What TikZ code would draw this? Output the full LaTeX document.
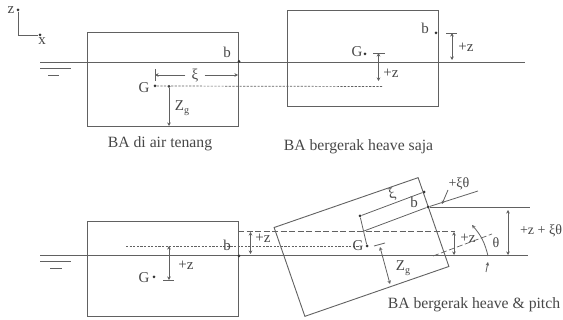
\documentclass[tikz,border=0pt]{standalone}
\usepackage{fontspec}
\setmainfont{Liberation Serif}
\usetikzlibrary{arrows.meta,positioning}
\colorlet{garis}{black!62}
\colorlet{teks}{black!72}
\tikzset{
  solidline/.style={draw=garis,line width=0.9pt},
  thinline/.style={draw=garis,line width=0.8pt},
  ukur/.style={thinline,{Stealth[length=3.5pt,width=3.5pt]}-{Stealth[length=3.5pt,width=3.5pt]}},
  panah/.style={thinline,-{Stealth[length=3.5pt,width=3.5pt]}},
  dashline/.style={draw=garis,line width=0.7pt,dash pattern=on 2.2pt off 1.4pt},
  longdash/.style={draw=garis,line width=0.7pt,dash pattern=on 6pt off 2.5pt},
  bak/.style={rectangle,solidline,minimum width=151pt,minimum height=94pt,inner sep=0pt},
  titik/.style={circle,fill=black!80,inner sep=0pt,minimum size=3pt},
  txt/.style={text=teks,inner sep=0pt,font=\fontsize{15}{16}\selectfont},
  judul/.style={text=teks,inner sep=0pt,font=\fontsize{15.7}{17}\selectfont},
  sumbu/.style={text=teks,inner sep=0pt,font=\fontsize{14}{15}\selectfont},
}
\begin{document}
\begin{tikzpicture}[x=1pt,y=-1pt,node distance=11pt]
    \useasboundingbox (0,0) rectangle (563,320);
    % axes
    \coordinate (origin) at (18,35);
    \node[titik] (ztop) at (18,10) {};
    \node[titik] (xend) at (40,35) {};
    \node[txt] (zaxis) at (11,10) {z};
    \node[txt] (xaxis) at (42,41) {x};
    \draw[thinline] (ztop) -- (origin) -- (xend);
    % still water
    \node[bak] (boxstill) at (162.5,79) {};
    \coordinate (watera) at (40,62.5);
    \coordinate (waterb) at (525,62.5);
    \draw[solidline] (watera) -- (waterb);
    \foreach \xa/\xb/\yy in {40/71/68,48/59/75,40/71/261,50/62/268}
      \draw[solidline] (\xa,\yy) -- (\xb,\yy);
    \node[titik] (bstill) at (239,61.5) {};
    \node[txt] (lbstill) at (227,52) {b};
    \node[titik] (Gstill) at (155,86) {};
    \node[txt] (lGstill) at (144,88) {G};
    \coordinate (xistart) at (155,75);
    \coordinate (xiend) at (238,75);
    \node[txt,fill=white,inner xsep=6pt] (lxi) at (195,76) {ξ};
    \draw[panah] (lxi.west |- xistart) -- (xistart);
    \draw[panah] (lxi.east |- xiend) -- (xiend);
    \draw[thinline] (155,69) -- (155,81);
    \node[titik] (Zgtop) at (169,86.5) {};
    \coordinate (Zgbot) at (169,126);
    \draw[panah] (Zgtop) -- (Zgbot);
    \node[txt] (lZg) at (182,108) {Z\raisebox{-3pt}{\fontsize{10}{10}\selectfont g}};
    \node[judul,below=10pt of boxstill,xshift=-2.5pt] (capstill) {BA di air tenang};
    % heave
    \node[bak,minimum height=96pt] (boxheave) at (362.5,58) {};
    \coordinate (dashend) at (382,86.5);
    \draw[dashline] (Gstill) -- (dashend);
    \node[titik] (bheave) at (436,33) {};
    \node[txt] (lbheave) at (425,28) {b};
    \node[titik] (Gheave) at (365,54) {};
    \node[txt] (lGheave) at (357,52) {G};
    \coordinate (zgtop) at (378.5,53);
    \coordinate (zgbot) at (378.5,81);
    \draw[ukur] (zgtop) -- (zgbot);
    \draw[thinline] (373,53) -- (385,53);
    \node[txt] (lzg) at (391,73) {+z};
    \coordinate (zbtop) at (452,33);
    \coordinate (zbbot) at (452,60);
    \draw[ukur] (zbtop) -- (zbbot);
    \draw[thinline] (446,33) -- (457,33);
    \node[txt] (lzb) at (466,47) {+z};
    \node[judul] (capheave) at (358.5,147) {BA bergerak heave saja};
    % heave and pitch, level box
    \node[bak,minimum height=95.5pt] (boxlevel) at (162.5,269.2) {};
    \coordinate (waterc) at (40,255.5);
    \coordinate (waterd) at (528,255.5);
    \draw[solidline] (waterc) -- (waterd);
    \coordinate (dottop) at (126,246);
    \coordinate (dotend) at (360,246);
    \draw[dashline] (dottop) -- (dotend);
    \node[titik] (blevel) at (239,256) {};
    \node[txt] (lblevel) at (227,245) {b};
    \node[titik] (Glevel) at (154,277) {};
    \node[txt] (lGlevel) at (144,278) {G};
    \coordinate (zltop) at (169,246);
    \coordinate (zlbot) at (169,280);
    \draw[ukur] (zltop) -- (zlbot);
    \draw[thinline] (163,280) -- (174,280);
    \node[txt] (lzl) at (186,265) {+z};
    \coordinate (dasha) at (238,231.5);
    \coordinate (dashb) at (455,231.5);
    \draw[longdash] (dasha) -- (dashb);
    \coordinate (zmtop) at (250.5,232);
    \coordinate (zmbot) at (250.5,254);
    \draw[ukur] (zmtop) -- (zmbot);
    \node[txt] (lzm) at (263,238) {+z};
    % tilted box
    \node[bak,minimum width=152.4pt,rotate=19.1] (boxtilt) at (361.5,247) {};
    \node[titik] (btilttop) at (424,192) {};
    \node[titik] (xitilt) at (360,216) {};
    \node[titik] (btilt) at (428,207) {};
    \node[titik] (Gtilt) at (367,246) {};
    \coordinate (midtilt) at (364,231);
    \coordinate (exttilt) at (478,191);
    \coordinate (horztop) at (530,207);
    \draw[thinline] (btilttop) -- (xitilt) -- (Gtilt);
    \draw[thinline] (midtilt) -- (btilt) -- (exttilt);
    \draw[thinline] (btilt) -- (horztop);
    \coordinate (xitheta) at (448,190);
    \coordinate (xithetaend) at (442,204);
    \draw[panah] (xitheta) -- (xithetaend);
    \node[sumbu] (lxitheta) at (459,184) {+ξθ};
    \node[txt] (lbtilt) at (414,202) {b};
    \node[txt,rotate=19] (lxitilt) at (392,195) {ξ};
    \node[txt] (lGtilt) at (358,246) {G};
    % tilted dashes
    \coordinate (slopea) at (433,256);
    \coordinate (slopeb) at (492,234);
    \draw[longdash] (slopea) -- (slopeb);
    \coordinate (ticka) at (374,246);
    \coordinate (tickb) at (385,243);
    \draw[thinline] (ticka) -- (tickb);
    \coordinate (Zttop) at (380,247);
    \coordinate (Ztbot) at (390,284);
    \draw[ukur] (Zttop) -- (Ztbot);
    \node[txt] (lZt) at (403,268) {Z\raisebox{-3pt}{\fontsize{10}{10}\selectfont g}};
    \coordinate (zttop) at (454,232);
    \coordinate (ztbot) at (454,255);
    \draw[ukur] (zttop) -- (ztbot);
    \node[txt] (lzt) at (468,238) {+z};
    % pitch angle
    \coordinate (arca) at (472,225);
    \coordinate (arcb) at (488,256);
    \draw[thinline,{Stealth[length=3.5pt,width=3.5pt]}-] (arca) to[bend left=14] (arcb);
    \coordinate (arrowa) at (486,272);
    \coordinate (arrowb) at (488,262);
    \draw[panah] (arrowa) -- (arrowb);
    \node[sumbu] (ltheta) at (496,243) {θ};
    \coordinate (ztotaltop) at (508,210);
    \coordinate (ztotalbot) at (508,255);
    \draw[ukur] (ztotaltop) -- (ztotalbot);
    \node[sumbu] (lztotal) at (541,231) {+z + ξθ};
    \node[judul] (captilt) at (474,305) {BA bergerak heave \& pitch};
\end{tikzpicture}
\end{document}
